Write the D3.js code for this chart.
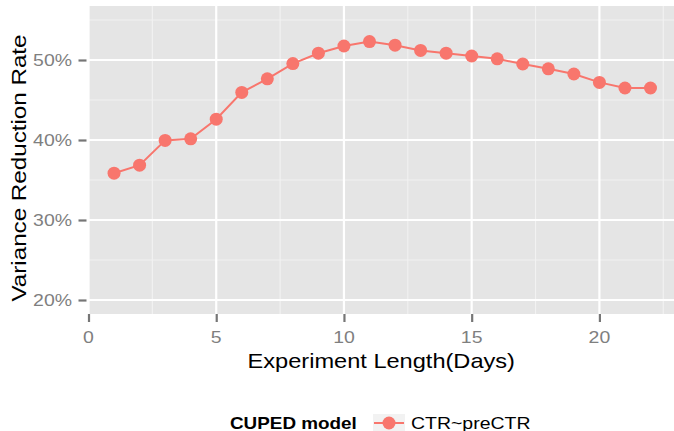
<!DOCTYPE html>
<html>
<head>
<meta charset="utf-8">
<script src="https://cdn.jsdelivr.net/npm/d3@7"></script>
<style>
  html, body { margin: 0; padding: 0; background: #fff; }
  svg { display: block; font-family: Arial, "Liberation Sans", Helvetica, sans-serif; }
</style>
</head>
<body>
<svg id="chart" width="674" height="431"></svg>
<script>
// ---- data ----
const days = [1,2,3,4,5,6,7,8,9,10,11,12,13,14,15,16,17,18,19,20,21,22];
const reduction = [35.85,36.85,39.95,40.15,42.6,45.95,47.65,49.55,50.85,51.75,52.3,51.85,51.2,50.85,50.5,50.15,49.5,48.9,48.25,47.2,46.5,46.5];
const xTicks = [0,5,10,15,20];
const yTicks = [20,30,40,50];
const xMinor = [2.5,7.5,12.5,17.5,22.5];
const yMinor = [25,35,45,55];
const seriesName = "CTR~preCTR";
const legendTitle = "CUPED model";
const xTitle = "Experiment Length(Days)";
const yTitle = "Variance Reduction Rate";

// ---- layout ----
const W = 674, H = 431;
const P = { left: 88.5, right: 674, top: 6, bottom: 314 };
const SX = 1.18; // glyph horizontal stretch seen in reference
const col = "#F8766D";

const svg = d3.select("#chart");
const x = d3.scaleLinear().domain([0, 22.92]).range([P.left, P.right]);
const y = d3.scaleLinear().domain([18.25, 56.75]).range([P.bottom, P.top]);

// panel
svg.append("rect").attr("x", P.left).attr("y", P.top)
  .attr("width", P.right - P.left).attr("height", P.bottom - P.top)
  .attr("fill", "#e5e5e5");

const grid = svg.append("g");
grid.selectAll(".vmin").data(xMinor).join("line")
  .attr("x1", d => x(d)).attr("x2", d => x(d)).attr("y1", P.top).attr("y2", P.bottom)
  .attr("stroke", "#f2f2f2").attr("stroke-width", 1.1);
grid.selectAll(".hmin").data(yMinor).join("line")
  .attr("y1", d => y(d)).attr("y2", d => y(d)).attr("x1", P.left).attr("x2", P.right)
  .attr("stroke", "#f2f2f2").attr("stroke-width", 1.1);
grid.selectAll(".vmaj").data(xTicks).join("line")
  .attr("x1", d => x(d)).attr("x2", d => x(d)).attr("y1", P.top).attr("y2", P.bottom)
  .attr("stroke", "#ffffff").attr("stroke-width", 2.2);
grid.selectAll(".hmaj").data(yTicks).join("line")
  .attr("y1", d => y(d)).attr("y2", d => y(d)).attr("x1", P.left).attr("x2", P.right)
  .attr("stroke", "#ffffff").attr("stroke-width", 2.2);

// axes (ticks)
const axX = svg.append("g").attr("transform", `translate(0,${P.bottom})`)
  .call(d3.axisBottom(x).tickValues(xTicks).tickSize(8).tickSizeOuter(0).tickFormat(""));
const axY = svg.append("g").attr("transform", `translate(${P.left - 2},0)`)
  .call(d3.axisLeft(y).tickValues(yTicks).tickSize(8).tickSizeOuter(0).tickFormat(""));
[axX, axY].forEach(a => {
  a.select(".domain").remove();
  a.selectAll(".tick line").attr("stroke", "#767676").attr("stroke-width", 2.2);
});

// tick labels
svg.append("g").selectAll("text").data(xTicks).join("text")
  .attr("transform", d => `translate(${x(d)},343) scale(${SX},1)`)
  .attr("text-anchor", "middle").attr("font-size", 16.5).attr("fill", "#7f7f7f")
  .text(d => d);
svg.append("g").selectAll("text").data(yTicks).join("text")
  .attr("transform", d => `translate(72,${y(d) + 6}) scale(${SX},1)`)
  .attr("text-anchor", "end").attr("font-size", 16.5).attr("fill", "#7f7f7f")
  .text(d => d + "%");

// axis titles
svg.append("text")
  .attr("transform", `translate(${(P.left + P.right) / 2},367.5) scale(${SX},1)`)
  .attr("text-anchor", "middle").attr("font-size", 20).attr("fill", "#000")
  .text(xTitle);
svg.append("text")
  .attr("transform", `translate(25.5,${(P.top + P.bottom) / 2 + 8}) rotate(-90) scale(${SX},1)`)
  .attr("text-anchor", "middle").attr("font-size", 20.5).attr("fill", "#000")
  .text(yTitle);

// series
const line = d3.line().x((d, i) => x(days[i])).y(d => y(d));
svg.append("path").datum(reduction).attr("d", line)
  .attr("fill", "none").attr("stroke", col).attr("stroke-width", 2);
svg.append("g").selectAll("circle").data(reduction).join("circle")
  .attr("cx", (d, i) => x(days[i])).attr("cy", d => y(d)).attr("r", 6.5)
  .attr("fill", col);

// legend
const lg = svg.append("g");
lg.append("text")
  .attr("transform", `translate(230,428.5) scale(${SX},1)`)
  .attr("font-size", 16).attr("font-weight", "bold").attr("fill", "#000")
  .text(legendTitle);
lg.append("rect").attr("x", 373).attr("y", 414).attr("width", 32).attr("height", 19)
  .attr("fill", "#f2f2f2");
lg.append("line").attr("x1", 374).attr("x2", 404).attr("y1", 423).attr("y2", 423)
  .attr("stroke", col).attr("stroke-width", 2);
lg.append("circle").attr("cx", 389).attr("cy", 423).attr("r", 6.5).attr("fill", col);
lg.append("text")
  .attr("transform", `translate(411,428.5) scale(${SX},1)`)
  .attr("font-size", 16.5).attr("fill", "#000")
  .text(seriesName);
</script>
</body>
</html>
